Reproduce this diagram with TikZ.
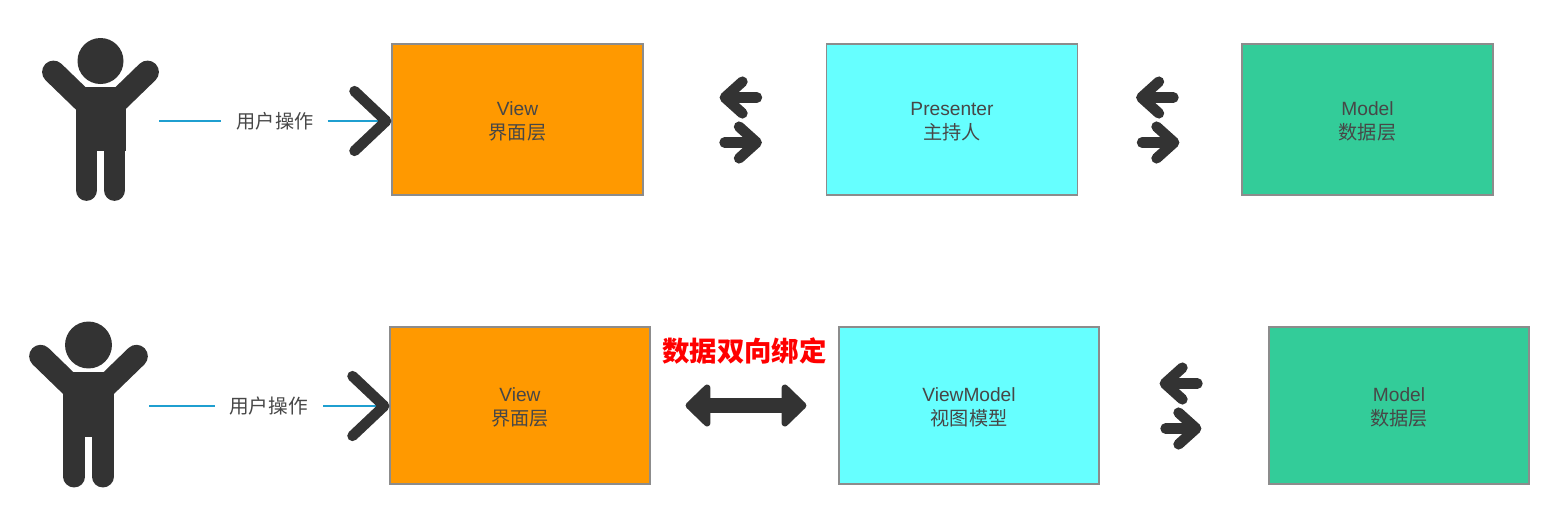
\documentclass[tikz,border=0pt]{standalone}
\usepackage{fontspec}
\setmainfont{Liberation Sans}
\newfontfamily\cjk{Noto Sans CJK SC}
\usetikzlibrary{arrows.meta}
\definecolor{dark}{HTML}{333333}
\definecolor{wire}{HTML}{1F9FD0}
\definecolor{viewcol}{HTML}{FF9900}
\definecolor{midcol}{HTML}{66FFFF}
\definecolor{modelcol}{HTML}{33CC99}
\newcommand{\twolines}[2]{\rule{0pt}{10.4pt}#1\\\cjk #2}
\tikzset{
  layer/.style={draw=black!45,line width=.7pt,text=black!72,align=center,inner sep=0pt,
    font=\fontsize{10.9}{13.6}\selectfont},
  toprow/.style={layer,minimum width=5.02cm,minimum height=3.02cm},
  lowrow/.style={layer,minimum width=5.2cm,minimum height=3.14cm},
  action/.style={text=black!72,inner sep=0pt,font=\cjk\fontsize{10.9}{13}\selectfont},
  wireline/.style={wire,line width=1.6pt},
  touser/.style={wireline,-{Straight Barb[round,dark,length=18pt,width=34pt,line width=6pt]}},
  flow/.style={dark,line width=6pt,line cap=round,
    -{Straight Barb[round,length=10pt,width=18pt,line width=6pt]}},
  twoway/.style={dark,line width=8.6pt,
    {Triangle[round,length=15pt,width=28pt,line width=5pt]}-{Triangle[round,length=15pt,width=28pt,line width=5pt]}},
  pics/man/.style={code={
    \fill[dark] (0,0) circle (23);
    \fill[dark] (-25,26) rectangle (25,90);
    \draw[dark,line width=13pt,line cap=round] (-47,11) -- (-15,42);
    \draw[dark,line width=13pt,line cap=round] (47,11) -- (15,42);
    \draw[dark,line width=12.4pt,line cap=round] (-14,80) -- (-14,129);
    \draw[dark,line width=12.4pt,line cap=round] (14,80) -- (14,129);
  }},
}
\begin{document}
\begin{tikzpicture}[x=0.02cm,y=-0.02cm]
\useasboundingbox (0,0) rectangle (1553,508);
% top row
\pic at (100.5,61) {man};
\coordinate (man1) at (159,121);
\node[action] (act1) at (275,121) {用户操作};
\node[toprow,fill=viewcol]  (view1)  at (517.5,119.5)  {\twolines{View}{界面层}};
\node[toprow,fill=midcol]   (pres)   at (952,119.5)    {\twolines{Presenter}{主持人}};
\node[toprow,fill=modelcol] (model1) at (1367.5,119.5) {\twolines{Model}{数据层}};
\draw[wireline,shorten >=.3cm] (man1) -- (act1.west);
\draw[touser,shorten <=.28cm] (act1.east) -- (act1.east -| view1.west);
\draw[flow,shorten <=1.38cm,shorten >=1.52cm] ([yshift=.44cm]pres.west) -- ([yshift=.44cm]view1.east);
\draw[flow,shorten <=1.62cm,shorten >=1.28cm] ([yshift=-.46cm]view1.east) -- ([yshift=-.46cm]pres.west);
\draw[flow,shorten <=1.36cm,shorten >=1.16cm] ([yshift=.44cm]model1.west) -- ([yshift=.44cm]pres.east);
\draw[flow,shorten <=1.28cm,shorten >=1.24cm] ([yshift=-.46cm]pres.east) -- ([yshift=-.46cm]model1.west);
% bottom row
\pic[scale=1.02] at (88.5,345) {man};
\coordinate (man2) at (149,406);
\node[action,font=\cjk\fontsize{11.2}{13}\selectfont] (act2) at (268.5,406) {用户操作};
\node[lowrow,fill=viewcol]  (view2)  at (520,405.5)  {\twolines{View}{界面层}};
\node[lowrow,fill=midcol]   (vmodel) at (969,405.5)  {\twolines{ViewModel}{视图模型}};
\node[lowrow,fill=modelcol] (model2) at (1399,405.5) {\twolines{Model}{数据层}};
\node[inner sep=0pt,text=red,font=\cjk\bfseries\fontsize{15.6}{18}\selectfont] (bind) at (744.5,351) {数据双向绑定};
\draw[wireline,shorten >=.28cm] (man2) -- (act2.west);
\draw[touser,shorten <=.3cm] (act2.east) -- (act2.east -| view2.west);
\draw[twoway,shorten <=.7cm,shorten >=.64cm] (view2.east) -- (vmodel.west);
\draw[flow,shorten <=1.42cm,shorten >=1.2cm] ([yshift=.44cm]model2.west) -- ([yshift=.44cm]vmodel.east);
\draw[flow,shorten <=1.32cm,shorten >=1.34cm] ([yshift=-.46cm]vmodel.east) -- ([yshift=-.46cm]model2.west);
\end{tikzpicture}
\end{document}
